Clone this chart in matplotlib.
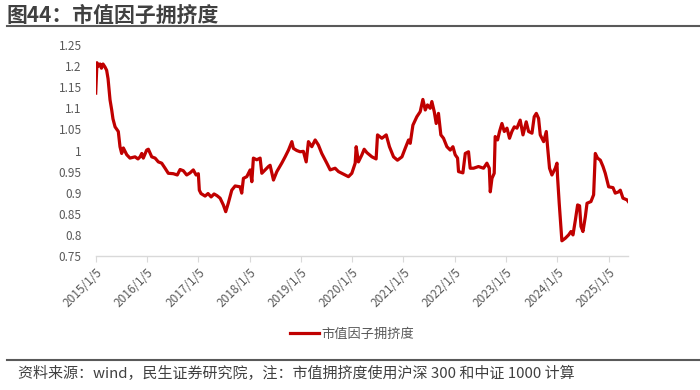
import matplotlib
matplotlib.use("Agg")
import matplotlib.pyplot as plt
import matplotlib.dates as mdates
import pandas as pd
from matplotlib.lines import Line2D

plt.rcParams['font.family'] = ['Noto Sans CJK SC', 'DejaVu Sans']

title = "图44：市值因子拥挤度"
series_name = "市值因子拥挤度"
footnote = "资料来源：wind，民生证券研究院，注：市值拥挤度使用沪深 300 和中证 1000 计算"

dates = [
    "2015-01-05", "2015-01-14", "2015-01-25", "2015-02-05", "2015-02-15", "2015-02-26",
    "2015-03-12", "2015-03-24", "2015-04-03", "2015-04-17", "2015-04-29", "2015-05-08",
    "2015-05-23", "2015-06-15", "2015-06-27", "2015-07-09", "2015-07-21", "2015-08-14",
    "2015-09-06", "2015-10-12", "2015-11-02", "2015-11-17", "2015-11-29", "2015-12-10",
    "2016-01-03", "2016-01-15", "2016-02-08", "2016-03-03", "2016-03-26", "2016-04-19",
    "2016-05-13", "2016-06-05", "2016-07-11", "2016-08-08", "2016-08-28", "2016-09-20",
    "2016-10-14", "2016-11-07", "2016-11-30", "2016-12-20", "2017-01-05", "2017-01-12",
    "2017-01-24", "2017-02-22", "2017-03-15", "2017-04-06", "2017-04-27", "2017-05-18",
    "2017-06-09", "2017-07-02", "2017-07-19", "2017-08-07", "2017-08-31", "2017-09-24",
    "2017-10-29", "2017-11-10", "2017-11-22", "2017-12-16", "2018-01-09", "2018-01-21",
    "2018-02-01", "2018-02-25", "2018-03-21", "2018-04-02", "2018-04-25", "2018-05-19",
    "2018-05-31", "2018-06-24", "2018-07-18", "2018-08-22", "2018-09-15", "2018-10-09",
    "2018-11-02", "2018-11-13", "2018-12-07", "2018-12-31", "2019-01-23", "2019-02-12",
    "2019-02-28", "2019-03-24", "2019-04-17", "2019-05-10", "2019-06-03", "2019-07-09",
    "2019-08-02", "2019-09-06", "2019-09-30", "2019-10-24", "2019-11-17", "2019-12-10",
    "2020-01-03", "2020-01-27", "2020-02-03", "2020-02-19", "2020-03-15", "2020-03-31",
    "2020-04-19", "2020-05-25", "2020-06-24", "2020-07-04", "2020-08-04", "2020-09-04",
    "2020-09-27", "2020-10-26", "2020-11-23", "2020-12-25", "2021-01-17", "2021-02-10",
    "2021-02-22", "2021-03-13", "2021-04-10", "2021-05-04", "2021-05-23", "2021-06-09",
    "2021-06-25", "2021-07-14", "2021-07-26", "2021-08-12", "2021-08-26", "2021-09-11",
    "2021-09-28", "2021-10-17", "2021-11-10", "2021-12-04", "2021-12-23", "2022-01-08",
    "2022-01-25", "2022-02-01", "2022-03-04", "2022-03-21", "2022-04-13", "2022-04-25",
    "2022-05-19", "2022-06-23", "2022-07-29", "2022-08-22", "2022-09-08", "2022-09-15",
    "2022-09-27", "2022-10-13", "2022-10-20", "2022-11-06", "2022-11-20", "2022-12-07",
    "2022-12-24", "2023-01-12", "2023-01-30", "2023-02-16", "2023-03-05", "2023-03-24",
    "2023-04-16", "2023-05-06", "2023-05-29", "2023-06-15", "2023-07-09", "2023-07-25",
    "2023-08-09", "2023-08-25", "2023-09-06", "2023-09-30", "2023-10-19", "2023-10-28",
    "2023-11-11", "2023-11-28", "2023-12-22", "2024-01-03", "2024-01-07", "2024-01-19",
    "2024-02-07", "2024-03-02", "2024-03-26", "2024-04-12", "2024-04-26", "2024-05-13",
    "2024-05-29", "2024-06-12", "2024-06-22", "2024-07-06", "2024-07-23", "2024-08-04",
    "2024-09-01", "2024-09-20", "2024-10-02", "2024-10-18", "2024-11-07", "2024-11-26",
    "2024-12-12", "2025-01-05", "2025-02-05", "2025-02-21", "2025-03-17", "2025-03-29",
    "2025-04-17", "2025-05-16", "2025-05-25",
]

values = [
    1.136, 1.208, 1.200, 1.205, 1.195, 1.205,
    1.198, 1.190, 1.170, 1.120, 1.096, 1.075,
    1.056, 1.045, 1.009, 0.993, 1.006, 0.990,
    0.982, 0.985, 0.980, 0.985, 0.993, 0.982,
    1.001, 1.003, 0.985, 0.982, 0.973, 0.970,
    0.958, 0.946, 0.945, 0.942, 0.955, 0.952,
    0.942, 0.947, 0.954, 0.942, 0.945, 0.906,
    0.898, 0.892, 0.898, 0.890, 0.897, 0.893,
    0.887, 0.871, 0.855, 0.876, 0.906, 0.916,
    0.914, 0.899, 0.934, 0.938, 0.954, 0.926,
    0.982, 0.978, 0.982, 0.946, 0.954, 0.962,
    0.965, 0.930, 0.950, 0.970, 0.985, 1.001,
    1.021, 1.005, 1.000, 0.997, 0.998, 0.973,
    1.021, 1.009, 1.025, 1.013, 0.993, 0.970,
    0.954, 0.958, 0.950, 0.946, 0.942, 0.938,
    0.946, 0.970, 1.009, 0.973, 0.990, 1.003,
    0.995, 0.985, 0.980, 1.037, 1.029, 1.037,
    1.009, 0.985, 0.977, 0.985, 1.005, 1.025,
    1.017, 1.060, 1.080, 1.092, 1.121, 1.096,
    1.108, 1.100, 1.116, 1.092, 1.064, 1.088,
    1.037, 1.029, 1.009, 1.001, 1.009, 0.990,
    0.982, 0.950, 0.947, 0.993, 0.997, 0.958,
    0.958, 0.962, 0.958, 0.970, 0.958, 0.902,
    0.934, 0.946, 1.033, 1.025, 1.045, 1.064,
    1.045, 1.053, 1.029, 1.045, 1.056, 1.053,
    1.072, 1.037, 1.068, 1.045, 1.041, 1.080,
    1.088, 1.076, 1.037, 1.021, 1.045, 1.009,
    0.958, 0.942, 0.958, 0.970, 0.938, 0.875,
    0.786, 0.792, 0.800, 0.808, 0.800, 0.835,
    0.871, 0.869, 0.820, 0.808, 0.843, 0.875,
    0.879, 0.895, 0.993, 0.982, 0.977, 0.962,
    0.946, 0.914, 0.912, 0.899, 0.902, 0.906,
    0.887, 0.883, 0.879,
]

x_ticks = ["2015-01-05", "2016-01-05", "2017-01-05", "2018-01-05", "2019-01-05", "2020-01-05",
           "2021-01-05", "2022-01-05", "2023-01-05", "2024-01-05", "2025-01-05"]
y_ticks = [0.75, 0.8, 0.85, 0.9, 0.95, 1.0, 1.05, 1.1, 1.15, 1.2, 1.25]

W, H = 700, 390
fig = plt.figure(figsize=(W / 100, H / 100), dpi=100)
ax = fig.add_axes([95.7 / W, 1 - 256 / H, (628.3 - 95.7) / W, (256 - 45) / H])

d = pd.to_datetime(dates)
line_color = "#C00000"
ax.plot(d, values, color=line_color, lw=2.3, solid_joinstyle="round")

ax.set_ylim(0.75, 1.25)
ax.set_yticks(y_ticks)
ax.set_yticklabels([f"{v:g}" for v in y_ticks])
ax.set_xlim(d[0], d[-1])
tk = pd.to_datetime(x_ticks)
ax.set_xticks(tk)
ax.set_xticklabels([f"{t.year}/{t.month}/{t.day}" for t in tk], rotation=45,
                   ha="right", rotation_mode="anchor")

for s in ["top", "right", "left"]:
    ax.spines[s].set_visible(False)
ax.spines["bottom"].set_color("#D9D9D9")
ax.spines["bottom"].set_linewidth(1.0)
ax.tick_params(axis="y", length=0, pad=10, labelsize=8.5, labelcolor="#595959")
ax.tick_params(axis="x", length=4, width=0.8, color="#D9D9D9", pad=3,
               labelsize=8.5, labelcolor="#595959")

# title and rules
fig.text(7 / W, 1 - 15 / H, title, fontsize=15, fontweight="bold", color="#404040",
         ha="left", va="center")
fig.add_artist(Line2D([7 / W, 1.0], [1 - 26 / H, 1 - 26 / H], color="#595959", lw=1.5))
fig.add_artist(Line2D([7 / W, 1.0], [1 - 360 / H, 1 - 360 / H], color="#595959", lw=1.5))
fig.text(18 / W, 1 - 373 / H, footnote, fontsize=10.8, color="#404040", ha="left", va="center")

# legend
handle = Line2D([], [], color=line_color, lw=2.3)
fig.legend([handle], [series_name], loc="center", bbox_to_anchor=(352 / W, 1 - 334 / H),
           frameon=False, fontsize=9.5, handlelength=2.2, handletextpad=0.2,
           labelcolor="#595959", borderpad=0)

fig.savefig("out.png", dpi=100)
